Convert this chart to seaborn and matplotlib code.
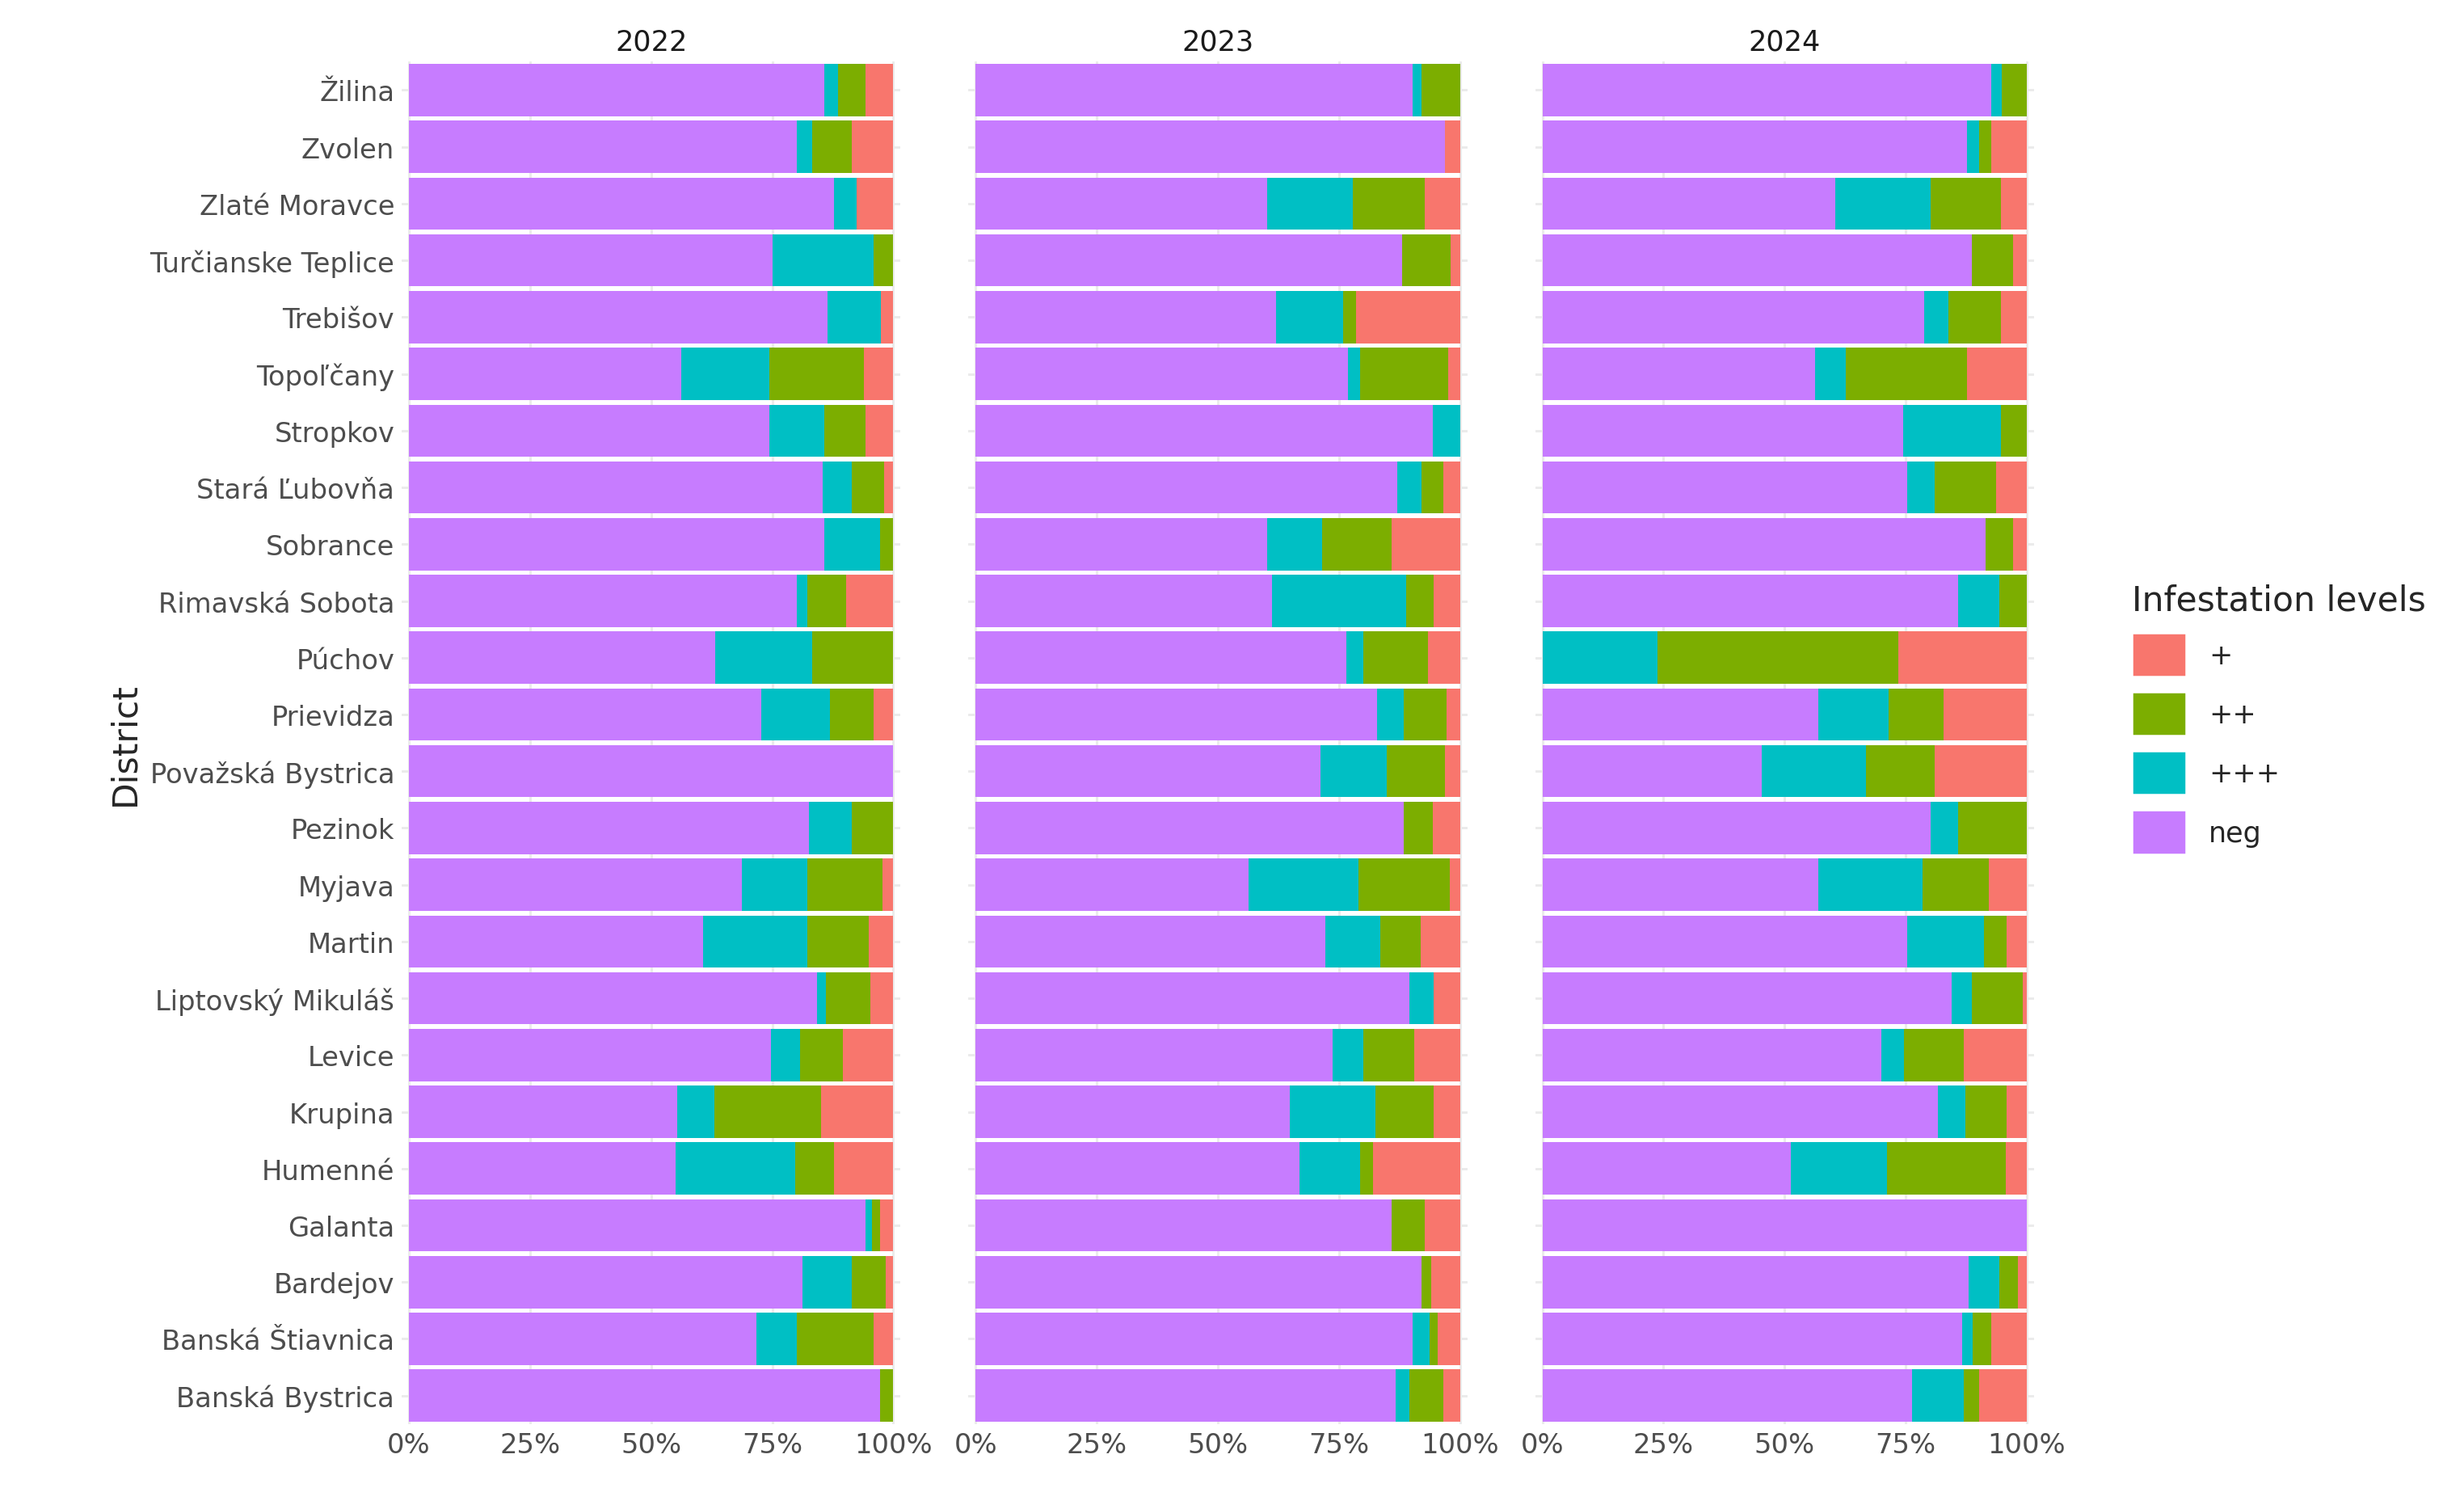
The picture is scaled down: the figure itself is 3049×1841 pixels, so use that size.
import matplotlib
matplotlib.use("Agg")
import matplotlib.pyplot as plt
import seaborn as sns
import pandas as pd
from matplotlib.patches import Patch
from matplotlib.ticker import FuncFormatter

districts = ["Žilina", "Zvolen", "Zlaté Moravce", "Turčianske Teplice", "Trebišov", "Topoľčany",
             "Stropkov", "Stará Ľubovňa", "Sobrance", "Rimavská Sobota", "Púchov", "Prievidza",
             "Považská Bystrica", "Pezinok", "Myjava", "Martin", "Liptovský Mikuláš", "Levice",
             "Krupina", "Humenné", "Galanta", "Bardejov", "Banská Štiavnica", "Banská Bystrica"]
years = ["2022", "2023", "2024"]

# cumulative right edges (%) of neg, neg+(+++), neg+(+++)+(++); remainder is "+"
neg_2022 = [85.8, 80.1, 87.7, 75.0, 86.4, 56.3, 74.4, 85.4, 85.8, 80.1, 63.3, 72.8, 100, 82.6, 68.7, 60.8, 84.2, 74.7, 55.4, 55.1, 94.3, 81.3, 71.8, 97.2]
c3_2022 = [88.6, 83.2, 92.4, 95.9, 97.5, 74.4, 85.8, 91.5, 97.2, 82.3, 83.2, 87.0, 100, 91.5, 82.3, 82.3, 86.1, 80.7, 63.0, 79.7, 95.6, 91.5, 80.1, 97.2]
c2_2022 = [94.3, 91.5, 92.4, 100, 97.5, 94.0, 94.3, 98.1, 100, 90.2, 100, 95.9, 100, 100, 97.8, 94.9, 95.3, 89.6, 85.1, 87.7, 97.2, 98.4, 95.9, 100]

neg_2023 = [90.2, 96.8, 60.1, 88.0, 62.0, 76.9, 94.3, 87.0, 60.1, 61.1, 76.6, 82.9, 71.2, 88.3, 56.3, 72.2, 89.6, 73.7, 64.9, 66.8, 85.8, 92.1, 90.2, 86.7]
c3_2023 = [92.1, 96.8, 77.8, 88.0, 75.9, 79.4, 100, 92.1, 71.5, 88.9, 80.1, 88.3, 84.8, 88.3, 79.1, 83.5, 94.6, 80.1, 82.6, 79.4, 85.8, 92.1, 93.7, 89.6]
c2_2023 = [100, 96.8, 92.7, 98.1, 78.5, 97.5, 100, 96.5, 85.8, 94.6, 93.4, 97.2, 96.8, 94.3, 97.8, 91.8, 94.6, 90.5, 94.6, 82.0, 92.7, 94.0, 95.3, 96.5]

neg_2024 = [92.7, 87.7, 60.4, 88.6, 78.8, 56.3, 74.4, 75.3, 91.5, 85.8, 0.0, 57.0, 45.3, 80.1, 57.0, 75.3, 84.5, 69.9, 81.6, 51.3, 100, 88.0, 86.7, 76.3]
c3_2024 = [94.9, 90.2, 80.1, 88.6, 83.9, 62.7, 94.6, 81.0, 91.5, 94.3, 23.7, 71.5, 66.8, 85.8, 78.5, 91.1, 88.6, 74.7, 87.3, 71.2, 100, 94.3, 88.9, 87.0]
c2_2024 = [100, 92.7, 94.6, 97.2, 94.6, 87.7, 100, 93.7, 97.2, 100, 73.4, 82.9, 81.0, 100, 92.1, 95.9, 99.1, 87.0, 95.9, 95.6, 100, 98.1, 92.7, 90.2]

levels = ["+", "++", "+++", "neg"]
colors = {"+": "#F8766D", "++": "#7CAE00", "+++": "#00BFC4", "neg": "#C77CFF"}

data = {"2022": (neg_2022, c3_2022, c2_2022),
        "2023": (neg_2023, c3_2023, c2_2023),
        "2024": (neg_2024, c3_2024, c2_2024)}

sns.set_theme(style="whitegrid")
plt.rcParams['font.family'] = ['DejaVu Sans']
fig = plt.figure(figsize=(3049/180, 1842/180), dpi=180)
lefts = [0.163, 0.393, 0.623]
for i, y in enumerate(years):
    ax = fig.add_axes([lefts[i], 0.043, 0.2025, 0.915])
    neg, c3, c2 = data[y]
    df = pd.DataFrame({"District": districts, "neg": neg, "c3": c3, "c2": c2, "all": [100]*len(districts)})
    for col, lev in [("all", "+"), ("c2", "++"), ("c3", "+++"), ("neg", "neg")]:
        sns.barplot(data=df, x=col, y="District", color=colors[lev], orient="h",
                    width=0.92, saturation=1, ax=ax, linewidth=0, zorder=3)
    ax.set_xlim(-1.5, 101.5)
    ax.set_xticks([0, 25, 50, 75, 100])
    ax.xaxis.set_major_formatter(FuncFormatter(lambda v, p: f"{int(v)}%"))
    ax.set_xlabel("")
    ax.grid(True, color="#EBEBEB", linewidth=1.2, zorder=0)
    ax.set_axisbelow(True)
    for s in ax.spines.values():
        s.set_visible(False)
    ax.tick_params(axis="both", labelsize=13.5, colors="#4D4D4D", length=0)
    ax.set_title(y, fontsize=14, color="#1A1A1A", pad=6)
    if i == 0:
        ax.set_ylabel("District", fontsize=17)
    else:
        ax.set_ylabel("")
        ax.set_yticklabels([])

handles = [Patch(facecolor=colors[l], label=l) for l in levels]
leg = fig.legend(handles=handles, title="Infestation levels", loc="upper left",
                 bbox_to_anchor=(0.855, 0.625), frameon=False, fontsize=14,
                 title_fontsize=17, handlelength=1.9, handleheight=2.0, labelspacing=0.55)
leg._legend_box.align = "left"
fig.savefig("out.png", dpi=180, facecolor="white")
